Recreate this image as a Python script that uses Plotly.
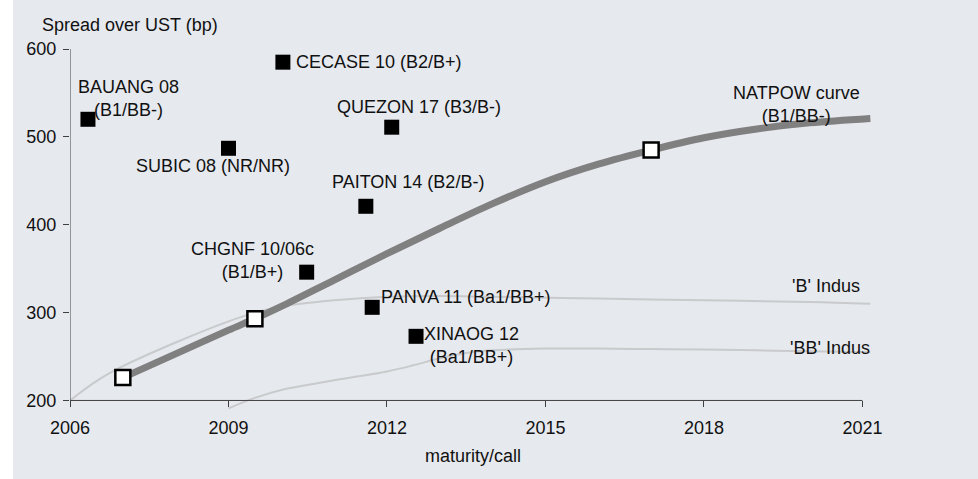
import plotly.graph_objects as go

# ---- data ----
bond_names = ["BAUANG 08<br>(B1/BB-)", "SUBIC 08 (NR/NR)", "CECASE 10 (B2/B+)",
              "CHGNF 10/06c<br>(B1/B+)", "PAITON 14 (B2/B-)", "PANVA 11 (Ba1/BB+)",
              "QUEZON 17 (B3/B-)", "XINAOG 12<br>(Ba1/BB+)"]
bond_x = [2006.34, 2009.0, 2010.03, 2010.48, 2011.6, 2011.72, 2012.09, 2012.55]
bond_y = [520, 487, 585, 346, 421, 306, 511, 273]

natpow_x = [2007, 2008, 2009, 2009.5, 2010, 2011, 2012, 2013, 2014, 2015, 2016, 2017, 2018, 2019, 2020, 2021.15]
natpow_y = [226, 253, 280, 293, 307, 337, 367, 396, 424, 449, 469, 485, 499, 509, 516, 521]
natpow_pts_x = [2007, 2009.5, 2017]
natpow_pts_y = [226, 293, 485]

b_indus_x = [2006, 2006.5, 2007, 2008, 2009, 2009.5, 2010, 2011, 2012, 2013, 2014, 2016, 2018, 2020, 2021.15]
b_indus_y = [200, 222, 239, 266, 290, 300, 307, 314, 318, 319, 318, 316, 314, 312, 310]

bb_indus_x = [2009, 2009.5, 2010, 2011, 2012, 2012.5, 2013, 2013.5, 2014, 2015, 2016, 2017, 2018, 2019, 2020, 2021.15]
bb_indus_y = [191, 203, 212, 223, 233, 240, 248, 254, 257, 259, 259, 258.5, 258, 257, 256, 255]

x_ticks = [2006, 2009, 2012, 2015, 2018, 2021]
y_ticks = [200, 300, 400, 500, 600]

series_labels = ["NATPOW curve<br>(B1/BB-)", "'B' Indus", "'BB' Indus"]
y_title = "Spread over UST (bp)"
x_title = "maturity/call"

# ---- layout constants ----
W, H = 978, 479
ML, MT = 70, 49
XR = [2006, 2021.2]
YR = [188, 600]
PX_PER_YR = 52.8
PX_PER_BP = 0.8775
plot_w = (XR[1] - XR[0]) * PX_PER_YR
plot_h = (YR[1] - YR[0]) * PX_PER_BP
MR = W - ML - plot_w
MB = H - MT - plot_h

BG = "#E6E9EE"
FONT = dict(family="Liberation Sans, Arial, sans-serif", size=18, color="#111111")
AX = "#404040"

fig = go.Figure()
fig.add_trace(go.Scatter(x=b_indus_x, y=b_indus_y, mode="lines", line=dict(color="#C9CACC", width=2, shape="spline"),
                         hoverinfo="skip"))
fig.add_trace(go.Scatter(x=bb_indus_x, y=bb_indus_y, mode="lines", line=dict(color="#C9CACC", width=2, shape="spline"),
                         hoverinfo="skip"))
fig.add_trace(go.Scatter(x=natpow_x, y=natpow_y, mode="lines", line=dict(color="#808080", width=7, shape="spline"),
                         hoverinfo="skip"))
fig.add_trace(go.Scatter(x=natpow_pts_x, y=natpow_pts_y, mode="markers",
                         marker=dict(symbol="square", size=15, color="white", line=dict(color="black", width=2.5))))
fig.add_trace(go.Scatter(x=bond_x, y=bond_y, mode="markers", text=bond_names,
                         marker=dict(symbol="square", size=15, color="black", line=dict(width=0))))

# label offsets (px): xanchor, xshift, yshift
label_style = [("center", 41, 21), ("center", -15.5, -18), ("left", 11, 0), ("center", -54, 12),
               ("center", 42, 24), ("left", 7, 10), ("center", 27.5, 20), ("center", 55, -9.5)]
annotations = []
for name, bx, by, (xa, xs, ys) in zip(bond_names, bond_x, bond_y, label_style):
    annotations.append(dict(x=bx, y=by, xref="x", yref="y", text=name, showarrow=False,
                            xanchor=xa, yanchor="middle", xshift=xs, yshift=ys, font=FONT, align="center"))

def px_to_px(px):
    return (px - ML) / plot_w

def py_to_py(py):
    return 1 - (py - MT) / plot_h

series_pos = [(796, 104.5), (826, 286), (829.5, 348)]
for lab, (px, py) in zip(series_labels, series_pos):
    annotations.append(dict(x=px_to_px(px), y=py_to_py(py), xref="paper", yref="paper", text=lab, showarrow=False,
                            xanchor="center", yanchor="middle", font=FONT, align="center"))
annotations.append(dict(x=px_to_px(130), y=py_to_py(25), xref="paper", yref="paper", text=y_title,
                        showarrow=False, xanchor="center", yanchor="middle", font=FONT))
annotations.append(dict(x=px_to_px(473), y=py_to_py(455), xref="paper", yref="paper", text=x_title,
                        showarrow=False, xanchor="center", yanchor="middle", font=FONT))

shapes = [
    # white strip at far left
    dict(type="rect", xref="paper", yref="paper", x0=(0 - ML) / plot_w, x1=(13 - ML) / plot_w,
         y0=-1, y1=2, fillcolor="white", line=dict(width=0), layer="below"),
    # axis lines
    dict(type="line", xref="x", yref="y", x0=x_ticks[0], x1=x_ticks[0], y0=y_ticks[0], y1=y_ticks[-1],
         line=dict(color=AX, width=1)),
    dict(type="line", xref="x", yref="y", x0=x_ticks[0], x1=x_ticks[-1], y0=y_ticks[0], y1=y_ticks[0],
         line=dict(color=AX, width=1)),
]

fig.update_layout(
    width=W, height=H, margin=dict(l=ML, r=MR, t=MT, b=MB, pad=0),
    paper_bgcolor=BG, plot_bgcolor=BG, showlegend=False,
    font=FONT, annotations=annotations, shapes=shapes,
    xaxis=dict(range=XR, tickvals=x_ticks, ticktext=[str(v) for v in x_ticks], showgrid=False, zeroline=False,
               showline=False, ticks="outside", ticklen=6, tickcolor=AX, tickwidth=1,
               anchor="free", position=(y_ticks[0] - YR[0]) / (YR[1] - YR[0]), tickfont=FONT,
               ticklabelstandoff=5),
    yaxis=dict(range=YR, tickvals=y_ticks, showgrid=False, zeroline=False, showline=False,
               ticks="outside", ticklen=6, tickcolor=AX, tickwidth=1, tickfont=FONT,
               ticklabelstandoff=3),
)

fig.write_html("out.html", config={"displayModeBar": False},
               post_script="document.body.style.margin='0';document.body.style.padding='0';")
